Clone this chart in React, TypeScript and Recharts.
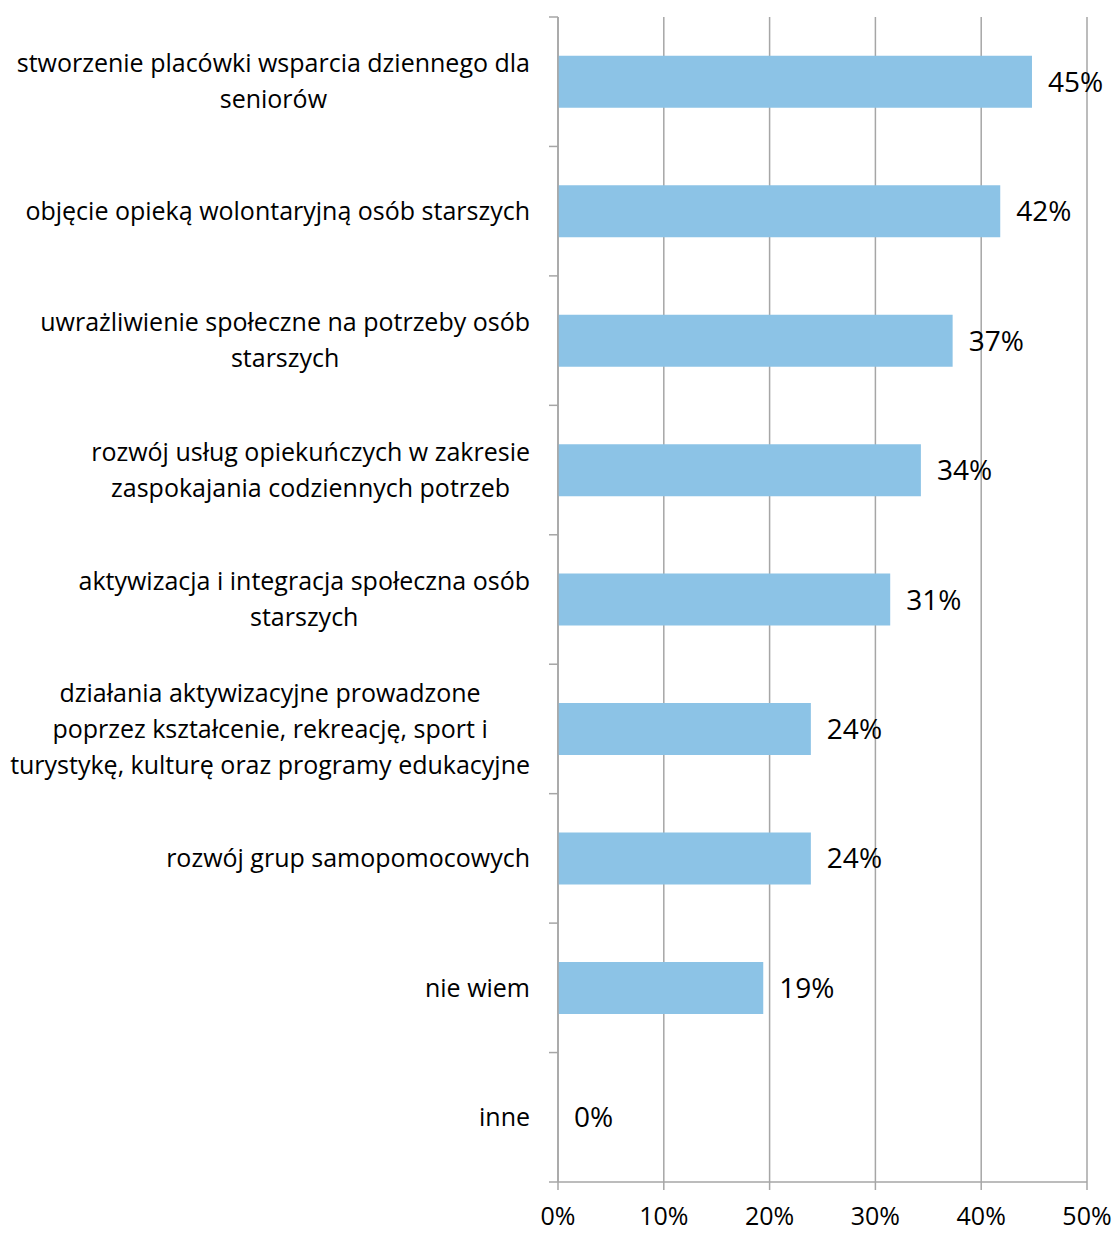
import { BarChart, Bar, XAxis, YAxis, CartesianGrid, LabelList } from 'recharts'

const categories = [
  'stworzenie placówki wsparcia dziennego dla seniorów',
  'objęcie opieką wolontaryjną osób starszych',
  'uwrażliwienie społeczne na potrzeby osób starszych',
  'rozwój usług opiekuńczych w zakresie zaspokajania codziennych potrzeb',
  'aktywizacja i integracja społeczna osób starszych',
  'działania aktywizacyjne prowadzone poprzez kształcenie, rekreację, sport i turystykę, kulturę oraz programy edukacyjne',
  'rozwój grup samopomocowych',
  'nie wiem',
  'inne',
]

// how each category label breaks into lines
const categoryLines = [
  ['stworzenie placówki wsparcia dziennego dla', 'seniorów'],
  ['objęcie opieką wolontaryjną osób starszych'],
  ['uwrażliwienie społeczne na potrzeby osób', 'starszych'],
  ['rozwój usług opiekuńczych w zakresie', 'zaspokajania codziennych potrzeb'],
  ['aktywizacja i integracja społeczna osób', 'starszych'],
  ['działania aktywizacyjne prowadzone', 'poprzez kształcenie, rekreację, sport i', 'turystykę, kulturę oraz programy edukacyjne'],
  ['rozwój grup samopomocowych'],
  ['nie wiem'],
  ['inne'],
]

const shares = [44.8, 41.8, 37.3, 34.3, 31.4, 23.9, 23.9, 19.4, 0]

const xTicks = [0, 10, 20, 30, 40, 50]

const data = categories.map((name, i) => ({ name, value: shares[i] }))

const WIDTH = 1115
const HEIGHT = 1233
const MARGIN = { top: 17, right: 28, bottom: 0, left: 0 }
const X_AXIS_HEIGHT = 51
const Y_AXIS_WIDTH = 558
const BAND = (HEIGHT - MARGIN.top - MARGIN.bottom - X_AXIS_HEIGHT) / categories.length

const FONT = '"Open Sans", "Noto Sans", sans-serif'
const LABEL_SIZE = 25
const AXIS_GRAY = '#a6a6a6'

let measureCtx: CanvasRenderingContext2D | null = null
function textWidth(s: string) {
  if (!measureCtx) measureCtx = document.createElement('canvas').getContext('2d')
  if (!measureCtx) return s.length * LABEL_SIZE * 0.5
  measureCtx.font = `${LABEL_SIZE}px ${FONT}`
  return measureCtx.measureText(s).width
}

function CategoryTick(props: any) {
  const { x, y, index } = props
  const lines: string[] = categoryLines[index] ?? []
  const lineH = 36
  const startY = y - ((lines.length - 1) * lineH) / 2
  const isLast = index === categories.length - 1
  // multi-line labels are centred as a block whose right edge sits 28px left of the axis
  const blockW = Math.max(...lines.map(textWidth))
  const cx = x - 28 - blockW / 2
  return (
    <g>
      <line x1={x - 9} x2={x} y1={y - BAND / 2} y2={y - BAND / 2} stroke={AXIS_GRAY} strokeWidth={1.5} />
      {isLast && (
        <line x1={x - 9} x2={x} y1={y + BAND / 2} y2={y + BAND / 2} stroke={AXIS_GRAY} strokeWidth={1.5} />
      )}
      <text x={cx} y={startY} textAnchor="middle" fontSize={LABEL_SIZE} fontFamily={FONT} fill="#000">
        {lines.map((l, i) => (
          <tspan key={i} x={cx} y={startY + i * lineH} dy="0.35em">
            {l}
          </tspan>
        ))}
      </text>
    </g>
  )
}

export default function App() {
  return (
    <div style={{ width: WIDTH, height: HEIGHT, background: '#fff' }}>
      <style>{'body{margin:0;}'}</style>
      <BarChart
        width={WIDTH}
        height={HEIGHT}
        data={data}
        layout="vertical"
        margin={MARGIN}
        barCategoryGap="30%"
      >
        <CartesianGrid horizontal={false} stroke={AXIS_GRAY} strokeWidth={1.5} />
        <XAxis
          type="number"
          domain={[0, 50]}
          ticks={xTicks}
          tickFormatter={(v: number) => `${v}%`}
          height={X_AXIS_HEIGHT}
          tickSize={8}
          tickMargin={17}
          stroke={AXIS_GRAY}
          axisLine={{ stroke: AXIS_GRAY, strokeWidth: 1.5 }}
          tickLine={{ stroke: AXIS_GRAY, strokeWidth: 1.5 }}
          tick={{ fill: '#000', fontSize: 25, fontFamily: FONT }}
          interval={0}
        />
        <YAxis
          type="category"
          dataKey="name"
          width={Y_AXIS_WIDTH}
          tickSize={0}
          tickMargin={0}
          tickLine={false}
          axisLine={{ stroke: AXIS_GRAY, strokeWidth: 1.5 }}
          tick={<CategoryTick />}
          interval={0}
        />
        <Bar
          dataKey="value"
          fill="#8cc3e6"
          isAnimationActive={false}
          minPointSize={(v: number) => (v === 0 ? 0.01 : 0)}
        >
          <LabelList
            dataKey="value"
            position="right"
            offset={16}
            formatter={(v: any) => `${Math.round(Number(v))}%`}
            fill="#000"
            fontSize={28}
            fontFamily={FONT}
          />
        </Bar>
      </BarChart>
    </div>
  )
}
